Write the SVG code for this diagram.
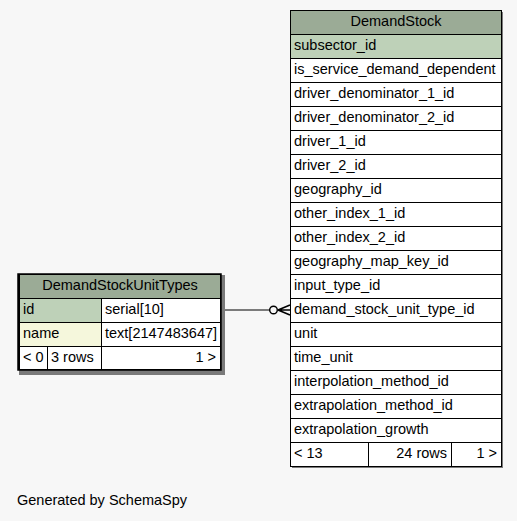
<svg xmlns="http://www.w3.org/2000/svg" width="517" height="521" viewBox="0 0 517 521">
  <style>
    text { font-family: "Liberation Sans", Arial, sans-serif; font-size: 14.5px; fill: #000; }
    .mid { text-anchor: middle; }
    .end { text-anchor: end; }
    .cell { fill: #ffffff; stroke: #000; stroke-width: 1; }
    .hdr { fill: #9bab96; stroke: #000; stroke-width: 1; }
    .pk { fill: #bed1b8; stroke: #000; stroke-width: 1; }
    .idx { fill: #f5f7dc; stroke: #000; stroke-width: 1; }
    .shadow { fill: #7a7a7a; }
    .edge { fill: none; stroke: #000; stroke-width: 1.2; }
  </style>
  <rect width="517" height="521" fill="#f7f7f7"/>

  <!-- connectors -->
  <g id="edges">
    <line class="edge" x1="222" y1="310" x2="270" y2="310"/>
    <circle cx="273.5" cy="310" r="3.8" fill="none" stroke="#000" stroke-width="1.4"/>
    <path d="M278 310 L290 305 M278 310 L290 310 M278 310 L290 315" fill="none" stroke="#000" stroke-width="1.6"/>
  </g>

  <!-- DemandStock table -->
  <g id="DemandStock">
    <rect class="shadow" x="292" y="12" width="211" height="456"/>
    <rect class="hdr" x="290.5" y="10.5" width="211" height="24"/>
    <text class="mid" x="396" y="26">DemandStock</text>
    <rect class="pk" x="290.5" y="34.5" width="211" height="24"/>
    <text x="294" y="50">subsector_id</text>
    <rect class="cell" x="290.5" y="58.5" width="211" height="24"/>
    <text x="294" y="74">is_service_demand_dependent</text>
    <rect class="cell" x="290.5" y="82.5" width="211" height="24"/>
    <text x="294" y="98">driver_denominator_1_id</text>
    <rect class="cell" x="290.5" y="106.5" width="211" height="24"/>
    <text x="294" y="122">driver_denominator_2_id</text>
    <rect class="cell" x="290.5" y="130.5" width="211" height="24"/>
    <text x="294" y="146">driver_1_id</text>
    <rect class="cell" x="290.5" y="154.5" width="211" height="24"/>
    <text x="294" y="170">driver_2_id</text>
    <rect class="cell" x="290.5" y="178.5" width="211" height="24"/>
    <text x="294" y="194">geography_id</text>
    <rect class="cell" x="290.5" y="202.5" width="211" height="24"/>
    <text x="294" y="218">other_index_1_id</text>
    <rect class="cell" x="290.5" y="226.5" width="211" height="24"/>
    <text x="294" y="242">other_index_2_id</text>
    <rect class="cell" x="290.5" y="250.5" width="211" height="24"/>
    <text x="294" y="266">geography_map_key_id</text>
    <rect class="cell" x="290.5" y="274.5" width="211" height="24"/>
    <text x="294" y="290">input_type_id</text>
    <rect class="cell" x="290.5" y="298.5" width="211" height="24"/>
    <text x="294" y="314">demand_stock_unit_type_id</text>
    <rect class="cell" x="290.5" y="322.5" width="211" height="24"/>
    <text x="294" y="338">unit</text>
    <rect class="cell" x="290.5" y="346.5" width="211" height="24"/>
    <text x="294" y="362">time_unit</text>
    <rect class="cell" x="290.5" y="370.5" width="211" height="24"/>
    <text x="294" y="386">interpolation_method_id</text>
    <rect class="cell" x="290.5" y="394.5" width="211" height="24"/>
    <text x="294" y="410">extrapolation_method_id</text>
    <rect class="cell" x="290.5" y="418.5" width="211" height="24"/>
    <text x="294" y="434">extrapolation_growth</text>
    <rect class="cell" x="290.5" y="442.5" width="78" height="24"/>
    <rect class="cell" x="368.5" y="442.5" width="83" height="24"/>
    <rect class="cell" x="451.5" y="442.5" width="50" height="24"/>
    <text x="294" y="458">&lt; 13</text>
    <text class="end" x="447" y="458">24 rows</text>
    <text class="end" x="497" y="458">1 &gt;</text>
  </g>

  <!-- DemandStockUnitTypes table -->
  <g id="DemandStockUnitTypes">
    <rect class="shadow" x="19" y="275" width="206" height="100"/>
    <rect x="17.25" y="273.25" width="204.5" height="97.5" fill="#000"/>
    <rect class="hdr" x="19.5" y="274.5" width="201" height="24"/>
    <text class="mid" x="120" y="290">DemandStockUnitTypes</text>
    <rect class="pk" x="19.5" y="298.5" width="82" height="24"/>
    <rect class="cell" x="101.5" y="298.5" width="119" height="24"/>
    <text x="23" y="314">id</text>
    <text x="105" y="314">serial[10]</text>
    <rect class="idx" x="19.5" y="322.5" width="82" height="24"/>
    <rect class="cell" x="101.5" y="322.5" width="119" height="24"/>
    <text x="23" y="338">name</text>
    <text x="105" y="338">text[2147483647]</text>
    <rect class="cell" x="19.5" y="346.5" width="28" height="23"/>
    <rect class="cell" x="47.5" y="346.5" width="54" height="23"/>
    <rect class="cell" x="101.5" y="346.5" width="119" height="23"/>
    <text x="23" y="362">&lt; 0</text>
    <text x="51" y="362">3 rows</text>
    <text class="end" x="216" y="362">1 &gt;</text>
  </g>

  <text x="17" y="505">Generated by SchemaSpy</text>
</svg>
